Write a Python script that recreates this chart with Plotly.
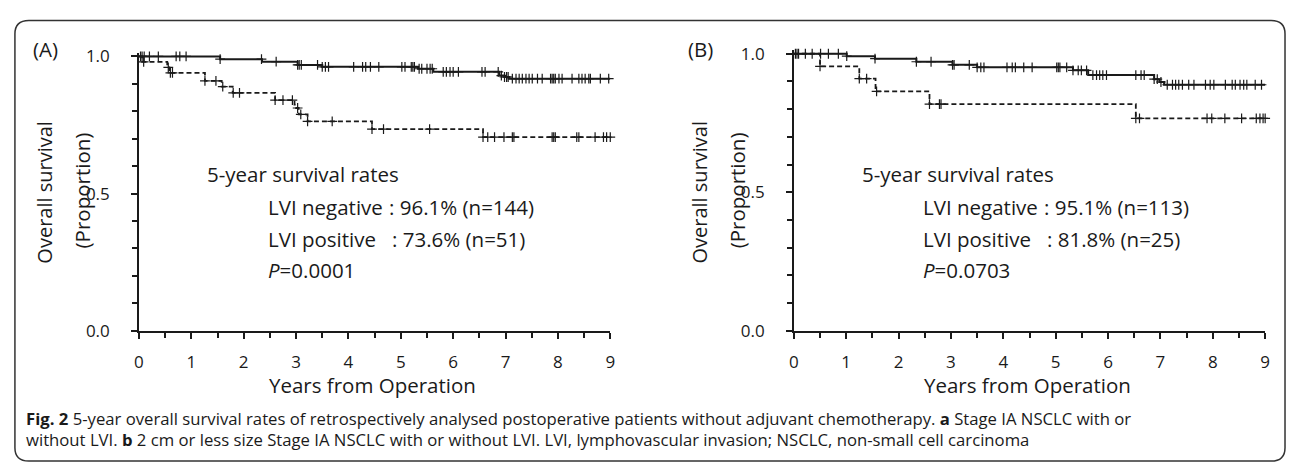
import numpy as np
import plotly.graph_objects as go

# ---------------- data ----------------
# Panel A: Stage IA NSCLC
a_neg_times = [0, 1.55, 2.35, 3.03, 3.5, 5.33, 5.62, 6.88, 6.98, 7.07]
a_neg_surv = [1.0, 0.990, 0.981, 0.969, 0.962, 0.955, 0.944, 0.930, 0.925, 0.919]
a_neg_censor = [0.03, 0.06, 0.1, 0.2, 0.37, 0.71, 0.78, 0.9, 1.55, 2.34, 2.62, 3.03, 3.06,
                3.1, 3.41, 3.5, 3.56, 3.62, 4.1, 4.27, 4.33, 4.42, 4.58, 5.02, 5.08, 5.2,
                5.23, 5.26, 5.35, 5.4, 5.5, 5.56, 5.6, 5.81, 5.87, 5.94, 6.0, 6.1, 6.55,
                6.61, 6.86, 6.92, 6.98, 7.02, 7.05, 7.13, 7.2, 7.26, 7.32, 7.39, 7.45,
                7.51, 7.61, 7.7, 7.86, 7.89, 7.92, 7.95, 8.02, 8.08, 8.27, 8.4, 8.46,
                8.52, 8.59, 8.62, 8.81, 8.97]

a_pos_times = [0, 0.06, 0.54, 0.58, 1.26, 1.58, 1.79, 2.6, 2.97, 3.0, 3.05, 3.22, 4.45, 6.57]
a_pos_surv = [1.0, 0.98, 0.96, 0.94, 0.911, 0.89, 0.867, 0.841, 0.824, 0.812, 0.789, 0.763,
              0.735, 0.706]
a_pos_censor = [0.09, 0.56, 0.6, 0.64, 1.26, 1.47, 1.6, 1.8, 1.92, 2.6, 2.75, 2.93, 3.03,
                3.09, 3.22, 3.69, 4.45, 4.67, 5.55, 6.57, 6.66, 6.79, 6.97, 7.13, 7.16,
                7.89, 7.92, 7.95, 8.36, 8.4, 8.71, 8.87, 8.93, 9.0]

# Panel B: 2 cm or less Stage IA NSCLC
b_neg_times = [0, 1.01, 1.55, 2.34, 3.03, 3.5, 5.33, 5.62, 6.88, 6.98, 7.07]
b_neg_surv = [1.0, 0.991, 0.982, 0.971, 0.960, 0.951, 0.940, 0.923, 0.908, 0.898, 0.888]
b_neg_censor = [0.03, 0.09, 0.22, 0.35, 0.51, 0.66, 0.85, 1.01, 1.55, 2.34, 2.62, 3.03,
                3.06, 3.35, 3.5, 3.57, 3.63, 4.07, 4.17, 4.23, 4.39, 4.55, 5.02, 5.05,
                5.08, 5.21, 5.33, 5.43, 5.49, 5.59, 5.71, 5.78, 5.84, 5.9, 5.97, 6.53,
                6.63, 6.69, 6.88, 6.94, 7.01, 7.13, 7.23, 7.29, 7.35, 7.42, 7.54, 7.64,
                7.86, 7.95, 8.02, 8.24, 8.37, 8.43, 8.52, 8.59, 8.65, 8.81, 8.93]

b_pos_times = [0, 0.5, 1.25, 1.56, 2.59, 6.53]
b_pos_surv = [1.0, 0.954, 0.91, 0.864, 0.818, 0.767]
b_pos_censor = [0.06, 0.5, 1.25, 1.39, 1.58, 2.59, 2.78, 2.81, 6.53, 6.6, 7.89, 7.98,
                8.23, 8.55, 8.83, 8.9, 8.96, 9.0]

x_ticks = list(range(10))
y_ticks = [0.0, 0.5, 1.0]
y_ticktext = ["0.0", "0.5", "1.0"]
end_time = 9.0

panel_text = {
    "A": ["96.1% (n=144)", "73.6% (n=51)", "0.0001"],
    "B": ["95.1% (n=113)", "81.8% (n=25)", "0.0703"],
}

# ---------------- figure ----------------
W, H = 1292, 474
FONT = "Open Sans"
INK = "#1a1a1a"


def px(x):
    return x / W


def py(y):
    return 1 - y / H


def step_value(times, surv, t):
    idx = np.searchsorted(np.asarray(times), t, side="right") - 1
    return np.asarray(surv)[idx]


fig = go.Figure()


def add_km(times, surv, censor, dashed, xa, ya):
    xs = list(times) + [end_time]
    ys = list(surv) + [surv[-1]]
    fig.add_trace(go.Scatter(
        x=xs, y=ys, mode="lines", line_shape="hv",
        line=dict(color=INK, width=1.8 if dashed else 2.0,
                  dash="5px,3px" if dashed else "solid"),
        xaxis=xa, yaxis=ya, showlegend=False, hoverinfo="skip"))
    cy = step_value(times, surv, np.asarray(censor))
    fig.add_trace(go.Scatter(
        x=censor, y=cy, mode="markers", cliponaxis=False,
        marker=dict(symbol="cross-thin", size=7, line=dict(color=INK, width=1.2)),
        xaxis=xa, yaxis=ya, showlegend=False, hoverinfo="skip"))


add_km(a_neg_times, a_neg_surv, a_neg_censor, False, "x", "y")
add_km(a_pos_times, a_pos_surv, a_pos_censor, True, "x", "y")
add_km(b_neg_times, b_neg_surv, b_neg_censor, False, "x2", "y2")
add_km(b_pos_times, b_pos_surv, b_pos_censor, True, "x2", "y2")

xaxis_common = dict(
    range=[0, 9], tickmode="array", tickvals=x_ticks, ticks="outside", ticklen=6,
    tickwidth=1.5, tickcolor=INK, showline=True, linewidth=1.5, linecolor=INK,
    showgrid=False, zeroline=False, tickfont=dict(family=FONT, size=17, color=INK),
    ticklabelstandoff=9,
    minor=dict(tickvals=[i + 0.5 for i in range(9)], ticks="outside", ticklen=5,
               tickwidth=1.5, tickcolor=INK, showgrid=False),
)
yaxis_common = dict(
    range=[0, 1.012], tickmode="array", tickvals=y_ticks, ticktext=y_ticktext,
    ticks="outside", ticklen=6, tickwidth=1.5, tickcolor=INK, showline=True,
    linewidth=1.5, linecolor=INK, showgrid=False, zeroline=False,
    tickfont=dict(family=FONT, size=17, color=INK), ticklabelstandoff=18,
    minor=dict(tickvals=[round(0.1 * i, 1) for i in range(1, 10)], ticks="outside",
               ticklen=5, tickwidth=1.5, tickcolor=INK, showgrid=False),
)

# Panel A: x 0..9 -> px 135..610, y 0..1 -> py 336..49.5 ; Panel B shifted by 660 px
fig.update_layout(
    xaxis=dict(domain=[px(135), px(610)], anchor="y", **xaxis_common),
    yaxis=dict(domain=[py(336), py(49.5 - 0.012 * 286.5)], anchor="x", **yaxis_common),
    xaxis2=dict(domain=[px(795), px(1270)], anchor="y2", **xaxis_common),
    yaxis2=dict(domain=[py(336), py(46.7 - 0.012 * 289.3)], anchor="x2", **yaxis_common),
)

ann = []


def text(x, y, s, size=20.5, xanchor="left", angle=0, font=FONT):
    ann.append(dict(x=px(x), y=py(y), xref="paper", yref="paper", text=s,
                    showarrow=False, xanchor=xanchor, yanchor="middle",
                    textangle=angle, font=dict(family=font, size=size, color=INK)))


for key, dx in (("A", 0), ("B", 660)):
    vals = panel_text[key]
    text(26 + dx, 42, f"({key})", size=20.5)
    text(40 + dx, 191, "Overall survival", size=20, xanchor="center", angle=-90)
    text(78 + dx, 189, "(Proportion)", size=20.5, xanchor="center", angle=-90)
    text(370 + dx, 393, "Years from Operation", size=20.5, xanchor="center")
    text(202 + dx, 172, "5-year survival rates")
    text(263 + dx, 207, "LVI negative")
    text(385 + dx, 207, ": " + vals[0])
    text(263 + dx, 240, "LVI positive")
    text(388 + dx, 240, ": " + vals[1])
    text(263 + dx, 273, "<i>P</i>=" + vals[2])

text(19, 428, "<b>Fig. 2</b> 5-year overall survival rates of retrospectively analysed "
     "postoperative patients without adjuvant chemotherapy. <b>a</b> Stage IA NSCLC with or",
     size=16.7)
text(19, 449, "without LVI. <b>b</b> 2 cm or less size Stage IA NSCLC with or without LVI. "
     "LVI, lymphovascular invasion; NSCLC, non-small cell carcinoma", size=16.7)

# rounded frame around the whole figure
x0, x1, y0, y1, r = 10, 1290, 12, 472, 14
path = (f"M {px(x0 + r)},{py(y0)} L {px(x1 - r)},{py(y0)} "
        f"Q {px(x1)},{py(y0)} {px(x1)},{py(y0 + r)} L {px(x1)},{py(y1 - r)} "
        f"Q {px(x1)},{py(y1)} {px(x1 - r)},{py(y1)} L {px(x0 + r)},{py(y1)} "
        f"Q {px(x0)},{py(y1)} {px(x0)},{py(y1 - r)} L {px(x0)},{py(y0 + r)} "
        f"Q {px(x0)},{py(y0)} {px(x0 + r)},{py(y0)} Z")

fig.update_layout(
    width=W, height=H, margin=dict(l=0, r=0, t=0, b=0),
    paper_bgcolor="white", plot_bgcolor="white",
    annotations=ann,
    shapes=[dict(type="path", path=path, xref="paper", yref="paper",
                 line=dict(color="#333333", width=1.5))],
    showlegend=False,
)

fig.write_html(
    "out.html",
    config={"displayModeBar": False},
    post_script="document.body.style.margin='0px';",
)
